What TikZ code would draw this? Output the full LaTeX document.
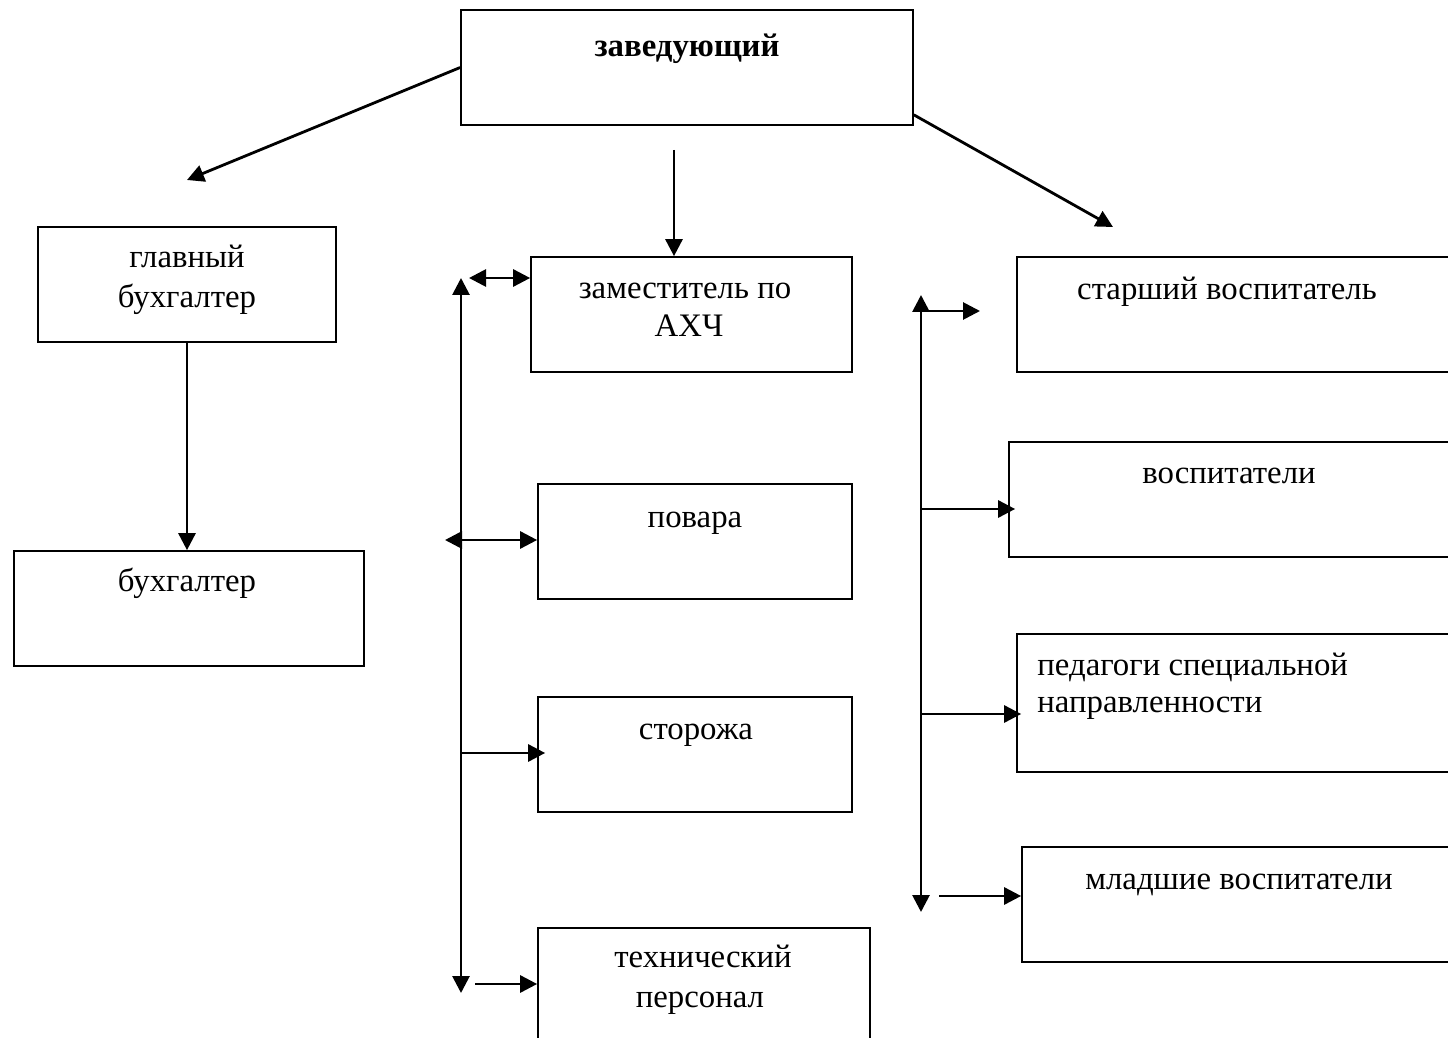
\documentclass[tikz,border=0pt]{standalone}
\usepackage{fontspec}
\setmainfont{Liberation Serif}
\usetikzlibrary{arrows.meta,fit}
\begin{document}
\begin{tikzpicture}[x=0.5pt,y=-0.5pt,
  box/.style={draw,line width=0.85pt,inner sep=0pt},
  txt/.style={anchor=mid,inner sep=0pt,yshift=-2.5pt,font=\fontsize{16.4pt}{19pt}\selectfont},
  ltxt/.style={anchor=mid west,inner sep=0pt,yshift=-2.5pt,font=\fontsize{16.4pt}{19pt}\selectfont},
  conn/.style={line width=1.4pt,-{Triangle[length=8.5pt,width=8.5pt]}},
  dconn/.style={line width=1.4pt,{Triangle[length=8.5pt,width=8.5pt]}-{Triangle[length=8.5pt,width=8.5pt]}}]
\useasboundingbox (0,0) rectangle (1448,1038);
% boxes
\node[box,fit={(461,10)(913,125)}] (zav) {};
\node[box,fit={(38,227)(336,342)}] (glav) {};
\node[box,fit={(14,551)(364,666)}] (buh) {};
\node[box,fit={(531,257)(852,372)}] (zam) {};
\node[box,fit={(538,484)(852,599)}] (pov) {};
\node[box,fit={(538,697)(852,812)}] (stor) {};
\node[box,fit={(538,928)(870,1060)}] (tech) {};
\node[box,fit={(1017,257)(1470,372)}] (star) {};
\node[box,fit={(1009,442)(1470,557)}] (vosp) {};
\node[box,fit={(1017,634)(1470,772)}] (ped) {};
\node[box,fit={(1022,847)(1470,962)}] (mlad) {};
% texts
\node[txt,font=\fontsize{16.4pt}{19pt}\selectfont\bfseries] (tzav) at (687,47) {заведующий};
\node[txt] (tglav1) at (187,258) {главный};
\node[txt] (tglav2) at (187,298) {бухгалтер};
\node[txt] (tbuh) at (187,582) {бухгалтер};
\node[txt] (tzam1) at (685,289) {заместитель по};
\node[txt] (tzam2) at (689,327) {АХЧ};
\node[txt] (tpov) at (695,518) {повара};
\node[txt] (tstor) at (696,730) {сторожа};
\node[txt] (ttech1) at (703,958) {технический};
\node[txt] (ttech2) at (700,998) {персонал};
\node[txt] (tstar) at (1227,290) {старший воспитатель};
\node[txt] (tvosp) at (1229,474) {воспитатели};
\node[ltxt] (tped1) at (1037,666) {педагоги специальной};
\node[ltxt] (tped2) at (1037,703) {направленности};
\node[txt] (tmlad) at (1239,880) {младшие воспитатели};
% free ends
\coordinate (glavtip) at (187,180);
\coordinate (startip) at (1113,227);
\coordinate (c1) at (674,150);
\coordinate (Lt) at (461,278);
\coordinate (Lb) at (461,993);
\coordinate (A1) at (469,278);
\coordinate (A2) at (445,540);
\coordinate (A3) at (461,753);
\coordinate (A4) at (475,984);
\coordinate (Rt) at (921,295);
\coordinate (Rb) at (921,912);
\coordinate (R1) at (921,311);
\coordinate (R1e) at (980,311);
\coordinate (R2) at (921,509);
\coordinate (R3) at (921,714);
\coordinate (R4) at (939,896);
% connectors
\draw[conn] (zav.west) -- (glavtip);
\draw[conn] ([yshift=5.5pt]zav.south east) -- (startip);
\draw[conn] (c1) -- (c1 |- zam.north);
\draw[conn] (glav.south) -- (glav.south |- buh.north);
\draw[dconn] (Lt) -- (Lb);
\draw[dconn] (A1) -- (A1 -| zam.west);
\draw[dconn] (A2) -- (A2 -| pov.west);
\draw[conn] (A3) -- ([xshift=4pt]A3 -| stor.west);
\draw[conn] (A4) -- (A4 -| tech.west);
\draw[dconn] (Rt) -- (Rb);
\draw[conn] (R1) -- (R1e);
\draw[conn] (R2) -- ([xshift=3.5pt]R2 -| vosp.west);
\draw[conn] (R3) -- ([xshift=2.5pt]R3 -| ped.west);
\draw[conn] (R4) -- (R4 -| mlad.west);
\end{tikzpicture}
\end{document}
